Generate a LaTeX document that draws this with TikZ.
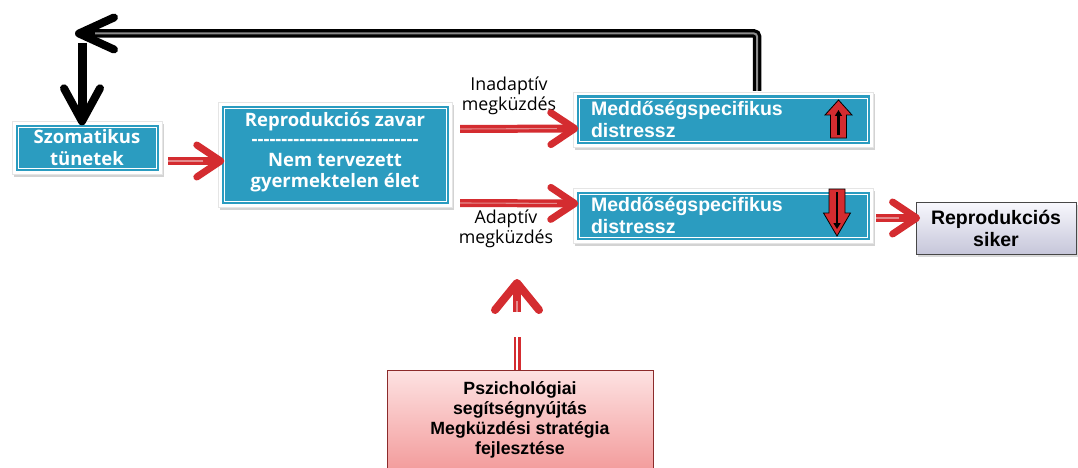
\documentclass[tikz,border=0pt]{standalone}
\usepackage{fontspec}
\setmainfont{Liberation Sans}
\newfontfamily\humanist{Open Sans}
\usetikzlibrary{arrows.meta,shadows,calc,decorations.markings}

\definecolor{boxteal}{HTML}{2B9CC0}
\definecolor{arrowred}{HTML}{D42C30}
\definecolor{shaftlight}{HTML}{E48A8C}
\definecolor{sikertop}{HTML}{F8F8FD}
\definecolor{sikerbot}{HTML}{C6C6DA}
\definecolor{psytop}{HTML}{FDE2E2}
\definecolor{psybot}{HTML}{F39C9C}
\definecolor{psyedge}{HTML}{8C2B2B}

\tikzset{
  tealbox/.style={rectangle, fill=white, draw=black!10, line width=0.4pt,
    drop shadow={shadow xshift=2pt, shadow yshift=-2.5pt, opacity=.35},
    inner sep=0pt, text=white,
    path picture={
      \fill[boxteal] ($(path picture bounding box.south west)+(3.5pt,3.5pt)$)
        rectangle ($(path picture bounding box.north east)+(-3.5pt,-3.5pt)$);
      \draw[white, line width=.9pt] ($(path picture bounding box.south west)+(6pt,6pt)$)
        rectangle ($(path picture bounding box.north east)+(-6pt,-6pt)$);
    }},
  leftfont/.style={font=\humanist\bfseries\fontsize{18.5}{22}\selectfont},
  medfont/.style={font=\bfseries\fontsize{19.5}{22}\selectfont},
  lbl/.style={align=center, font=\humanist\fontsize{17.8}{20}\selectfont, inner sep=0pt},
  % open chevron head: colour, length, half width, stroke width
  chev/.style n args={4}{postaction={decorate, decoration={markings,
      mark=at position 1 with {\draw[#1, line width=#4, line cap=round,
        line join=round, sharp corners, shorten >=0pt, shorten <=0pt]
        (-#2,#3) -- (0pt,0pt) -- (-#2,-#3);}}}},
  redshaft/.style={draw=arrowred, line width=8pt, shorten >=6pt,
    postaction={draw=shaftlight, line width=1.1pt, shorten >=18pt}},
  redarrow/.style={redshaft, chev={arrowred}{24pt}{16pt}{7pt}},
  blackfb/.style={draw=black, line width=8.5pt, rounded corners=3pt, shorten >=6pt,
    postaction={draw=black!45, line width=2pt, shorten >=16pt}},
  blackhead/.style={chev={black}{35pt}{16pt}{8pt}},
  blackdown/.style={draw=black, line width=9pt, shorten >=6pt,
    chev={black}{33pt}{18pt}{8pt}},
  blockarrow/.style={fill=arrowred, draw=black, line width=.8pt, line join=miter},
  innerarrow/.style={draw=black, line width=2.2pt, -{Triangle[length=6pt,width=7pt]}}
}

\begin{document}
\begin{tikzpicture}[x=1pt, y=-1pt]
\useasboundingbox (0,0) rectangle (1078,468);
\clip (0,0) rectangle (1078,468);

% teal boxes
\node[tealbox, leftfont, align=center, minimum width=150pt, minimum height=53pt]
  (szom) at (87,148) {Szomatikus\\tünetek};
\node[tealbox, leftfont, align=center, minimum width=234pt, minimum height=105pt]
  (repro) at (335,155) {Reprodukciós zavar\\[-3pt]----------------------------\\[-1pt]Nem tervezett\\[-1pt]gyermektelen élet\\[-12pt]\mbox{}};
\node[tealbox, medfont, align=left, text width=264pt, minimum width=300pt, minimum height=55pt]
  (med1) at (723,119.5) {Meddőségspecifikus\\distressz};
\node[tealbox, medfont, align=left, text width=264pt, minimum width=300pt, minimum height=55pt]
  (med2) at (723,215.5) {Meddőségspecifikus\\distressz};

% outcome box
\node[draw=black!72, line width=.8pt, top color=sikertop, bottom color=sikerbot,
  drop shadow={shadow xshift=2pt, shadow yshift=-2.5pt, opacity=.3},
  minimum width=160pt, minimum height=52pt, align=center,
  font=\bfseries\fontsize{19.5}{22}\selectfont]
  (siker) at (996,228) {Reprodukciós\\siker};

% support box
\node[draw=psyedge, line width=.8pt, top color=psytop, bottom color=psybot,
  minimum width=266pt, minimum height=100pt, align=center,
  font=\bfseries\fontsize{17.7}{20}\selectfont]
  (psych) at (520,420) {Pszichológiai\\segítségnyújtás\\Megküzdési stratégia\\fejlesztése};

% distress level marks
\draw[blockarrow] (838.5,100) -- (852,115) -- (846.5,115) -- (846.5,138)
  -- (830.5,138) -- (830.5,115) -- (825,115) -- cycle;
\draw[innerarrow] (838.5,135) -- (838.5,110);
\draw[blockarrow] (837,236) -- (850.5,213) -- (845,213) -- (845,189)
  -- (829,189) -- (829,213) -- (823.5,213) -- cycle;
\draw[innerarrow] (837,192) -- (837,229);

% coping labels
\node[lbl] (inad) at (509,96) {Inadaptív\\megküzdés};
\node[lbl] (adapt) at (506,229) {Adaptív\\megküzdés};

% red flow arrows
\draw[redarrow] ($(szom.east)+(6,13)$) -- ($(repro.west)+(3,6)$);
\draw[redarrow] ($(repro.east)+(8,-26)$) -- ($(med1.west)+(2,9)$);
\draw[redarrow] ($(repro.east)+(8,48)$) -- ($(med2.west)+(2,-12)$);
\draw[redarrow] ($(med2.east)+(3,2.5)$) -- ($(siker.west)+(1,-10)$);
\coordinate (helpstub) at (517,337);
\coordinate (helphead) at (517,312);
\coordinate (helptip) at (517,283);
\draw[redshaft, line width=7pt, shorten >=0pt,
  postaction={draw=white, line width=2pt, shorten >=0pt}]
  ($(psych.north)+(-3,0)$) -- (helpstub);
\draw[redshaft, chev={arrowred}{27pt}{22pt}{8pt}] (helphead) -- (helptip);

% feedback loop
\coordinate (fbstart) at ($(med1.north)+(34,-1)$);
\coordinate (fbend) at (79,33.5);
\draw[blackfb, blackhead] (fbstart) |- (fbend);
\coordinate (dnstart) at (82,43);
\draw[blackdown] (dnstart) -- (dnstart |- szom.north);
\end{tikzpicture}
\end{document}
